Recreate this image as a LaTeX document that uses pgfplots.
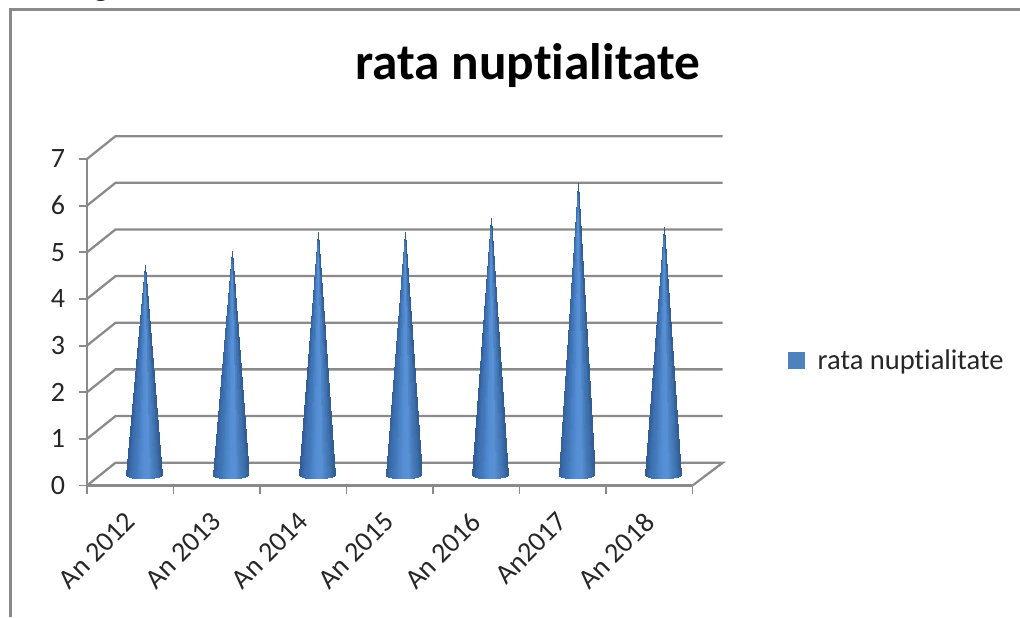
\documentclass[border=0pt]{standalone}
\usepackage{pgfplots}
\pgfplotsset{compat=1.18}
\usepackage{fontspec}
\setmainfont[Ligatures=NoCommon]{Carlito}
\definecolor{gridgray}{HTML}{8A8A8A}
\definecolor{legblue}{HTML}{4F81BD}
% one cone: #1 = centre of the base on the x axis, #2 = value
\newcommand\cone[2]{%
  \foreach \ua/\ub in {-1/-0.96,-0.96/-0.85,-0.85/-0.65,-0.65/-0.4,-0.4/-0.15,-0.15/0.1,0.1/0.35,0.35/0.6,0.6/0.85,0.85/0.96,0.96/1}{%
    \pgfmathsetmacro\xa{#1+0.208*\ua}%
    \pgfmathsetmacro\xb{#1+0.208*\ub}%
    \pgfmathsetmacro\ya{0.236-0.085*sqrt(max(0,1-\ua*\ua))}%
    \pgfmathsetmacro\yb{0.236-0.085*sqrt(max(0,1-\ub*\ub))}%
    \pgfmathsetmacro\yt{#2+0.236}%
    \pgfmathsetmacro\um{(\ua+\ub)/2}%
    \edef\temp{\noexpand\addplot[forget plot,patch,patch type=triangle,shader=interp,point meta=explicit]
      coordinates {(#1+0.012,\yt) [\um] (\xa,\ya) [\ua] (\xb,\yb) [\ub]};}%
    \temp
  }%
}
\begin{document}
\begin{tikzpicture}
\useasboundingbox (0pt,0pt) rectangle (765pt,462.75pt);
\draw[gridgray,line width=1.9pt] (7.9pt,0pt) -- (7.9pt,455.6pt) -- (765pt,455.6pt);
\node[font=\fontsize{26}{26}\selectfont\bfseries,anchor=base,inner sep=0pt] at (75.8pt,466pt) {g};
\begin{axis}[
  at={(65.25pt,98.6pt)},anchor=origin,
  scale only axis,width=454.1pt,height=244.9pt,
  xmin=0,xmax=7,ymin=0,ymax=7,clip=false,
  axis lines*=left,
  axis line style={gridgray,line width=1.7pt,-},
  tick style={gridgray,line width=1.4pt},
  tick align=outside,
  major tick length=6pt,
  xtick={0,...,7},xticklabels={},
  extra x ticks={0.5,1.5,2.5,3.5,4.5,5.5,6.5},
  extra x tick labels={An 2012,An 2013,An 2014,An 2015,An 2016,An2017,An 2018},
  extra x tick style={major tick length=0pt,
    tick label style={xshift=-5pt,yshift=-14pt,rotate=45,anchor=north east}},
  ytick={0,...,7},
  y tick label style={xshift=-7pt},
  tick label style={font=\fontsize{21}{21}\selectfont,text=black!85},
  /pgf/number format/assume math mode=true,
  title={rata nuptialitate},
  title style={at={(0.728,1.262)},anchor=center,font=\fontsize{38.5}{38.5}\selectfont\bfseries,inner sep=0pt},
  legend style={at={(1.158,0.383)},anchor=west,draw=none,fill=none,inner sep=0pt,outer sep=0pt,
    font=\fontsize{21.4}{21.4}\selectfont,text=black!85},
  colormap={conemap}{rgb255=(48,92,150) rgb255=(60,110,174) rgb255=(66,120,186) rgb255=(76,133,202)
    rgb255=(86,143,213) rgb255=(88,144,212) rgb255=(72,126,190) rgb255=(62,112,172) rgb255=(48,92,146)},
  point meta min=-1,point meta max=1,
]
\addlegendimage{legend image code/.code={\fill[legblue] (0pt,-6pt) rectangle (12pt,6pt); \path[draw=none,fill=none] (0pt,0pt) -- (20pt,0pt);}}
\addlegendentry{rata nuptialitate}
% walls and floor
\addplot[forget plot,gridgray,line width=1.7pt,mark=none] coordinates {(0,0) (0.33,0.49) (7.35,0.49) (7,0)};
\addplot[forget plot,gridgray,line width=1.7pt,mark=none] coordinates {(0,1) (0.33,1.49) (7.35,1.49)};
\addplot[forget plot,gridgray,line width=1.7pt,mark=none] coordinates {(0,2) (0.33,2.49) (7.35,2.49)};
\addplot[forget plot,gridgray,line width=1.7pt,mark=none] coordinates {(0,3) (0.33,3.49) (7.35,3.49)};
\addplot[forget plot,gridgray,line width=1.7pt,mark=none] coordinates {(0,4) (0.33,4.49) (7.35,4.49)};
\addplot[forget plot,gridgray,line width=1.7pt,mark=none] coordinates {(0,5) (0.33,5.49) (7.35,5.49)};
\addplot[forget plot,gridgray,line width=1.7pt,mark=none] coordinates {(0,6) (0.33,6.49) (7.35,6.49)};
\addplot[forget plot,gridgray,line width=1.7pt,mark=none] coordinates {(0,7) (0.33,7.49) (7.35,7.49)};
% cones
\cone{0.66}{4.5}
\cone{1.66}{4.8}
\cone{2.66}{5.2}
\cone{3.66}{5.2}
\cone{4.66}{5.5}
\cone{5.66}{6.25}
\cone{6.66}{5.3}
\end{axis}
\end{tikzpicture}
\end{document}
